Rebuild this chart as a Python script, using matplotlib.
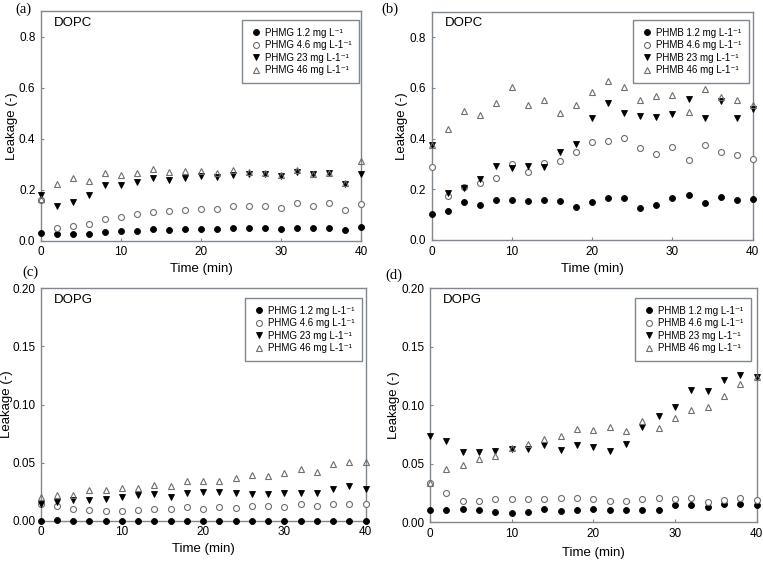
import matplotlib
matplotlib.use("Agg")
import matplotlib.pyplot as plt

plt.rcParams['font.family'] = ['Liberation Sans', 'DejaVu Sans']

time = [0, 2, 4, 6, 8, 10, 12, 14, 16, 18, 20, 22, 24, 26, 28, 30, 32, 34, 36, 38, 40]

# (a) PHMG, DOPC
a_12 = [0.031, 0.025, 0.026, 0.026, 0.035, 0.039, 0.039, 0.044, 0.042, 0.044, 0.044,
        0.047, 0.050, 0.050, 0.050, 0.046, 0.051, 0.050, 0.051, 0.043, 0.052]
a_46 = [0.160, 0.050, 0.059, 0.067, 0.085, 0.093, 0.105, 0.114, 0.115, 0.120, 0.125,
        0.125, 0.136, 0.135, 0.137, 0.129, 0.146, 0.137, 0.148, 0.119, 0.145]
a_23 = [0.179, 0.135, 0.150, 0.179, 0.217, 0.220, 0.229, 0.246, 0.237, 0.246, 0.254,
        0.251, 0.258, 0.263, 0.260, 0.254, 0.268, 0.261, 0.265, 0.222, 0.263]
a_460 = [0.165, 0.222, 0.246, 0.234, 0.264, 0.258, 0.264, 0.280, 0.271, 0.275, 0.275,
         0.267, 0.276, 0.269, 0.264, 0.259, 0.276, 0.263, 0.265, 0.227, 0.312]

# (b) PHMB, DOPC
b_12 = [0.104, 0.115, 0.148, 0.139, 0.157, 0.157, 0.152, 0.159, 0.153, 0.131, 0.150,
        0.164, 0.164, 0.127, 0.139, 0.165, 0.178, 0.144, 0.170, 0.156, 0.161]
b_46 = [0.286, 0.173, 0.210, 0.224, 0.245, 0.298, 0.269, 0.304, 0.312, 0.345, 0.387,
        0.392, 0.401, 0.362, 0.340, 0.366, 0.317, 0.376, 0.345, 0.337, 0.321]
b_23 = [0.374, 0.184, 0.205, 0.239, 0.291, 0.285, 0.291, 0.288, 0.346, 0.380, 0.480,
        0.540, 0.500, 0.490, 0.483, 0.498, 0.556, 0.479, 0.548, 0.479, 0.518]
b_460 = [0.375, 0.438, 0.509, 0.491, 0.540, 0.602, 0.534, 0.553, 0.502, 0.531, 0.582,
         0.627, 0.605, 0.553, 0.566, 0.572, 0.506, 0.597, 0.564, 0.550, 0.532]

# (c) PHMG, DOPG
c_12 = [0.000, 0.001, 0.000, 0.000, 0.000, 0.000, 0.000, 0.000, 0.000, 0.000, 0.000,
        0.000, 0.000, 0.000, 0.000, 0.000, 0.000, 0.000, 0.000, 0.000, 0.000]
c_46 = [0.014, 0.013, 0.010, 0.009, 0.008, 0.0086, 0.009, 0.0098, 0.0103, 0.0118, 0.0103,
        0.0118, 0.0112, 0.0123, 0.0129, 0.0118, 0.0146, 0.0123, 0.014, 0.0146, 0.0146]
c_23 = [0.014, 0.0158, 0.0175, 0.018, 0.019, 0.0207, 0.022, 0.0227, 0.0207, 0.0238, 0.0247,
        0.0244, 0.0235, 0.0227, 0.0227, 0.0235, 0.0235, 0.024, 0.027, 0.0296, 0.0276]
c_460 = [0.0204, 0.022, 0.022, 0.0264, 0.0261, 0.0278, 0.028, 0.031, 0.0299, 0.0339, 0.0339,
         0.0342, 0.0367, 0.0393, 0.0385, 0.0408, 0.0448, 0.0419, 0.049, 0.0502, 0.0505]

# (d) PHMB, DOPG
d_12 = [0.0105, 0.0105, 0.011, 0.0105, 0.0088, 0.0077, 0.0088, 0.0114, 0.0097, 0.0105, 0.0114,
        0.0108, 0.0105, 0.0108, 0.0108, 0.0145, 0.0145, 0.0131, 0.0154, 0.016, 0.0151]
d_46 = [0.034, 0.025, 0.0185, 0.018, 0.020, 0.0202, 0.0197, 0.0197, 0.0211, 0.0208, 0.0202,
        0.0185, 0.0185, 0.0202, 0.0205, 0.0197, 0.0208, 0.0174, 0.0188, 0.0208, 0.0191]
d_23 = [0.0738, 0.0698, 0.0598, 0.0598, 0.0607, 0.063, 0.063, 0.0658, 0.0615, 0.0664, 0.0644,
        0.061, 0.067, 0.0815, 0.0909, 0.0986, 0.113, 0.112, 0.1217, 0.1256, 0.124]
d_460 = [0.034, 0.0459, 0.0487, 0.0538, 0.0564, 0.0638, 0.0667, 0.0712, 0.0735, 0.0798, 0.0792,
         0.0812, 0.0778, 0.0863, 0.0809, 0.0895, 0.0963, 0.0989, 0.108, 0.118, 0.1245]

SUP = '\u207b\u00b9'
labels_a = ['PHMG 1.2 mg L' + SUP, 'PHMG 4.6 mg L-1' + SUP,
            'PHMG 23 mg L-1' + SUP, 'PHMG 46 mg L-1' + SUP]
labels_b = ['PHMB 1.2 mg L-1' + SUP, 'PHMB 4.6 mg L-1' + SUP,
            'PHMB 23 mg L-1' + SUP, 'PHMB 46 mg L-1' + SUP]
labels_c = ['PHMG 1.2 mg L-1' + SUP, 'PHMG 4.6 mg L-1' + SUP,
            'PHMG 23 mg L-1' + SUP, 'PHMG 46 mg L-1' + SUP]
labels_d = ['PHMB 1.2 mg L-1' + SUP, 'PHMB 4.6 mg L-1' + SUP,
            'PHMB 23 mg L-1' + SUP, 'PHMB 46 mg L-1' + SUP]

W, H = 763, 562
fig = plt.figure(figsize=(W / 100, H / 100), dpi=100)

frame_col = '#7f8790'
open_col = '#6e6e6e'

def px_axes(l, t, r, b):
    return fig.add_axes([l / W, 1 - b / H, (r - l) / W, (b - t) / H])

panels = [
    dict(box=(41, 11, 361, 240.7), data=(a_12, a_46, a_23, a_460), labels=labels_a,
         ylim=0.9, yt=[0.0, 0.2, 0.4, 0.6, 0.8], fmt='{:.1f}', lip='DOPC', tag='(a)',
         tagpos=(15, 9), leg=(359, 20), ylab=12.5, xlab=269),
    dict(box=(431.7, 11.7, 752.7, 240), data=(b_12, b_46, b_23, b_460), labels=labels_b,
         ylim=0.9, yt=[0.0, 0.2, 0.4, 0.6, 0.8], fmt='{:.1f}', lip='DOPC', tag='(b)',
         tagpos=(381, 9), leg=(749, 20), ylab=402, xlab=269),
    dict(box=(40.7, 288.3, 365.7, 520.7), data=(c_12, c_46, c_23, c_460), labels=labels_c,
         ylim=0.2, yt=[0.0, 0.05, 0.10, 0.15, 0.20], fmt='{:.2f}', lip='DOPG', tag='(c)',
         tagpos=(22, 272), leg=(362, 298), ylab=7.5, xlab=549),
    dict(box=(430, 288.3, 756.7, 522.3), data=(d_12, d_46, d_23, d_460), labels=labels_d,
         ylim=0.2, yt=[0.0, 0.05, 0.10, 0.15, 0.20], fmt='{:.2f}', lip='DOPG', tag='(d)',
         tagpos=(385, 275), leg=(751, 298), ylab=394, xlab=553),
]

for p in panels:
    ax = px_axes(*p['box'])
    s12, s46, s23, s460 = p['data']
    ms = 4.3
    ax.plot(time, s12, 'o', ms=ms, mfc='black', mec='black', mew=0.6, clip_on=False,
            label=p['labels'][0], zorder=3)
    ax.plot(time, s46, 'o', ms=ms, mfc='white', mec=open_col, mew=0.8, clip_on=False,
            label=p['labels'][1], zorder=3)
    ax.plot(time, s23, 'v', ms=ms + 0.6, mfc='black', mec='black', mew=0.6, clip_on=False,
            label=p['labels'][2], zorder=3)
    ax.plot(time, s460, '^', ms=ms + 0.6, mfc='none', mec=open_col, mew=0.8, clip_on=False,
            label=p['labels'][3], zorder=3)
    ax.set_xlim(0, 40)
    ax.set_ylim(0, p['ylim'])
    ax.set_xticks([0, 10, 20, 30, 40])
    ax.set_yticks(p['yt'])
    ax.set_yticklabels([p['fmt'].format(v) for v in p['yt']])
    for sp in ax.spines.values():
        sp.set_color(frame_col)
        sp.set_linewidth(1.0)
    ax.tick_params(direction='in', length=2, width=0.8, color=frame_col,
                   labelsize=8.5, pad=4)
    ax.set_xlabel('Time (min)', fontsize=9.5)
    ax.set_ylabel('Leakage (-)', fontsize=9.5)
    ax.yaxis.set_label_coords(p['ylab'] / W, 1 - (p['box'][1] + p['box'][3]) / 2 / H,
                              transform=fig.transFigure)
    ax.xaxis.set_label_coords((p['box'][0] + p['box'][2]) / 2 / W, 1 - p['xlab'] / H,
                              transform=fig.transFigure)
    ax.xaxis.label.set_va('center')
    ax.yaxis.label.set_va('center')
    ax.text(0.04, 0.975, p['lip'], transform=ax.transAxes, fontsize=9.5,
            ha='left', va='top')
    leg = ax.legend(loc='upper right', bbox_to_anchor=(p['leg'][0] / W, 1 - p['leg'][1] / H),
                    bbox_transform=fig.transFigure, borderaxespad=0, fontsize=7,
                    fancybox=False, frameon=True, framealpha=1, handletextpad=0.3,
                    handlelength=1.2, labelspacing=0.25, borderpad=0.8)
    leg.set_zorder(10)
    leg.get_frame().set_edgecolor(frame_col)
    leg.get_frame().set_linewidth(1.0)
    fig.text(p['tagpos'][0] / W, 1 - p['tagpos'][1] / H, p['tag'],
             family=['Liberation Serif'], fontsize=10.5, ha='left', va='center')

fig.savefig('out.png', dpi=100)
